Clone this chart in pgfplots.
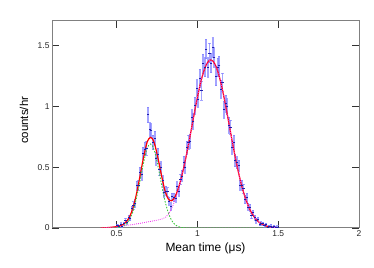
\documentclass[border=0pt]{standalone}
\usepackage{fontspec}
\setmainfont{Liberation Sans}
\usepackage{pgfplots}
\pgfplotsset{compat=1.18}
\usepackage{pgfplotstable}

\pgfplotstableread{
x y e
0.505 0.019 0.012
0.515 0.012 0.012
0.525 0.032 0.012
0.535 0.016 0.012
0.545 0.038 0.013
0.555 0.066 0.015
0.565 0.050 0.017
0.575 0.089 0.019
0.585 0.083 0.022
0.595 0.158 0.025
0.605 0.187 0.029
0.615 0.205 0.033
0.625 0.349 0.037
0.635 0.351 0.041
0.645 0.454 0.044
0.655 0.442 0.048
0.665 0.616 0.051
0.675 0.650 0.054
0.685 0.657 0.056
0.695 0.930 0.065
0.705 0.807 0.058
0.715 0.800 0.058
0.725 0.702 0.058
0.735 0.736 0.057
0.745 0.570 0.054
0.755 0.604 0.052
0.765 0.480 0.049
0.775 0.500 0.046
0.785 0.388 0.042
0.795 0.292 0.039
0.805 0.305 0.036
0.815 0.298 0.034
0.825 0.222 0.033
0.835 0.177 0.032
0.845 0.257 0.032
0.855 0.250 0.034
0.865 0.245 0.035
0.875 0.344 0.037
0.885 0.304 0.040
0.895 0.403 0.042
0.905 0.428 0.045
0.915 0.542 0.048
0.925 0.500 0.051
0.935 0.659 0.054
0.945 0.706 0.056
0.955 0.712 0.059
0.965 0.911 0.062
0.975 0.875 0.065
0.985 1.005 0.067
0.995 1.149 0.069
1.005 1.061 0.071
1.015 1.231 0.073
1.025 1.128 0.075
1.035 1.352 0.077
1.045 1.322 0.078
1.055 1.471 0.079
1.065 1.320 0.079
1.075 1.438 0.080
1.085 1.356 0.080
1.095 1.484 0.080
1.105 1.402 0.079
1.115 1.248 0.078
1.125 1.320 0.077
1.135 1.335 0.076
1.145 1.140 0.074
1.155 1.198 0.072
1.165 0.971 0.070
1.175 1.022 0.068
1.185 0.997 0.066
1.195 0.845 0.063
1.205 0.828 0.060
1.215 0.663 0.058
1.225 0.706 0.055
1.235 0.556 0.052
1.245 0.537 0.049
1.255 0.512 0.046
1.265 0.353 0.043
1.275 0.352 0.040
1.285 0.326 0.037
1.295 0.234 0.034
1.305 0.254 0.032
1.315 0.173 0.029
1.325 0.168 0.027
1.335 0.101 0.024
1.345 0.125 0.022
1.355 0.088 0.020
1.365 0.060 0.018
1.375 0.072 0.016
1.385 0.034 0.014
1.395 0.040 0.013
1.405 0.036 0.012
1.415 0.020 0.012
1.425 0.030 0.012
1.435 0.006 0.012
1.445 0.014 0.012
1.455 0.017 0.012
1.465 0.005 0.012
1.475 0.010 0.012
1.485 0.005 0.012
1.495 0.008 0.012
}\histdata

\pgfplotstableread{
x g m r
0.40 0.0000 0.000 0.000
0.42 0.0000 0.002 0.002
0.44 0.0001 0.003 0.003
0.46 0.0003 0.005 0.005
0.48 0.0008 0.007 0.008
0.50 0.0016 0.010 0.012
0.52 0.0048 0.013 0.018
0.54 0.0130 0.016 0.029
0.56 0.0316 0.020 0.052
0.58 0.0684 0.024 0.092
0.60 0.1324 0.028 0.160
0.62 0.230 0.033 0.263
0.64 0.356 0.037 0.393
0.66 0.494 0.042 0.536
0.68 0.614 0.047 0.661
0.69 0.660 0.050 0.710
0.70 0.682 0.052 0.734
0.71 0.690 0.0545 0.744
0.72 0.679 0.057 0.736
0.73 0.649 0.060 0.709
0.74 0.604 0.062 0.666
0.76 0.481 0.067 0.548
0.78 0.343 0.074 0.417
0.80 0.218 0.085 0.303
0.82 0.125 0.113 0.238
0.84 0.064 0.160 0.224
0.86 0.029 0.224 0.253
0.88 0.012 0.306 0.318
0.90 0.0043 0.406 0.410
0.92 0.0014 0.523 0.524
0.94 0.0004 0.654 0.654
0.96 0.0001 0.794 0.794
0.98 0.0000 0.937 0.937
1.00 0.0000 1.073 1.073
1.02 0.0000 1.194 1.194
1.04 0.0000 1.290 1.290
1.06 0.0000 1.354 1.354
1.08 0.0000 1.380 1.380
1.10 0.0000 1.365 1.365
1.12 0.0000 1.310 1.310
1.14 0.0000 1.220 1.220
1.16 0.0000 1.103 1.103
1.18 0.0000 0.967 0.967
1.20 0.0000 0.822 0.822
1.22 0.0000 0.679 0.679
1.24 0.0000 0.543 0.543
1.26 0.0000 0.422 0.422
1.28 0.0000 0.318 0.318
1.30 0.0000 0.233 0.233
1.32 0.0000 0.165 0.165
1.34 0.0000 0.114 0.114
1.36 0.0000 0.076 0.076
1.38 0.0000 0.049 0.049
1.40 0.0000 0.031 0.031
1.42 0.0000 0.019 0.019
1.44 0.0000 0.011 0.011
1.46 0.0000 0.006 0.006
1.48 0.0000 0.004 0.004
1.50 0.0000 0.002 0.002
}\fitdata

\definecolor{barblue}{RGB}{125,125,255}
\definecolor{markblue}{RGB}{30,30,170}
\definecolor{fitgreen}{RGB}{60,200,60}
\definecolor{fitmag}{RGB}{240,60,240}

\begin{document}
\begin{tikzpicture}
\useasboundingbox (0,0) rectangle (374bp,268bp);
\begin{axis}[
  at={(52bp,40bp)}, anchor=south west,
  width=307bp, height=207bp, scale only axis,
  xmin=0.1, xmax=2, ymin=0, ymax=1.7,
  xtick={0.5,1,1.5,2}, ytick={0,0.5,1,1.5},
  minor tick num=0,
  tick align=inside,
  major tick length=7bp,
  tick style={black!80, line width=0.6bp},
  axis line style={black!50, line width=1bp},
  /pgf/number format/assume math mode=true,
  ticklabel style={font=\fontsize{8.5}{9}\selectfont, color=black!85},
  xticklabel style={yshift=1bp},
  yticklabel style={xshift=1bp},
  xlabel={Mean time (μs)},
  ylabel={counts/hr},
  xlabel style={font=\fontsize{12}{13}\selectfont, at={(axis description cs:0.5,0)}, anchor=north, yshift=-11bp},
  ylabel style={font=\fontsize{11.5}{12}\selectfont, at={(axis description cs:-0.078,0.52)}, anchor=base, rotate=0},
  clip=true,
]
\addplot[only marks, mark=-, mark size=1.1bp, mark options={markblue, line width=0.6bp},
  error bars/.cd, y dir=both, y explicit,
  error bar style={barblue, line width=1.8bp, opacity=0.7}]
  table[x=x, y=y, y error=e] {\histdata};
\addplot[red, line width=1.2bp, smooth] table[x=x, y=r] {\fitdata};
\addplot[fitgreen, line width=0.9bp, dash pattern=on 1.5bp off 1.5bp, smooth] table[x=x, y=g] {\fitdata};
\addplot[fitmag, line width=0.9bp, dash pattern=on 0.8bp off 1.2bp, smooth] table[x=x, y=m] {\fitdata};
\end{axis}
\end{tikzpicture}
\end{document}
